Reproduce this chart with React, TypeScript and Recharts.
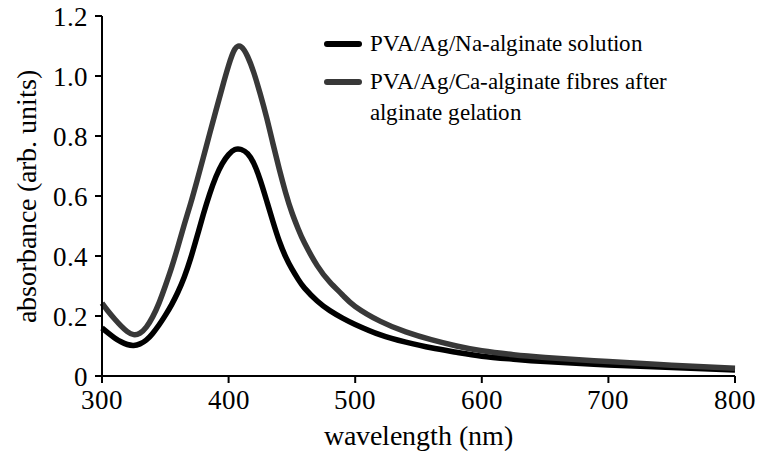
import { LineChart, Line, XAxis, YAxis, Legend } from "recharts";

const wavelengths = [
  300, 305, 310, 315, 320, 325, 330, 335, 340, 345, 350, 355, 360, 365, 370, 375, 380, 385, 390, 395,
  400, 405, 410, 415, 420, 425, 430, 435, 440, 445, 450, 455, 460, 470, 480, 490, 500, 520, 540, 560,
  580, 600, 625, 650, 700, 750, 800,
];

// PVA/Ag/Na-alginate solution
const naAlginate = [
  0.16, 0.143, 0.127, 0.114, 0.105, 0.102, 0.107, 0.12, 0.142, 0.17, 0.202, 0.238, 0.28, 0.33, 0.392, 0.464, 0.538, 0.606, 0.664, 0.708,
  0.738, 0.755, 0.755, 0.741, 0.708, 0.653, 0.585, 0.515, 0.45, 0.398, 0.357, 0.322, 0.293, 0.25, 0.218, 0.193, 0.172, 0.137, 0.113, 0.094,
  0.079, 0.066, 0.056, 0.048, 0.037, 0.028, 0.02,
];

// PVA/Ag/Ca-alginate fibres after gelation
const caAlginate = [
  0.243, 0.215, 0.19, 0.167, 0.148, 0.138, 0.143, 0.163, 0.197, 0.243, 0.3, 0.362, 0.432, 0.505, 0.575, 0.65, 0.728, 0.807, 0.885, 0.962,
  1.035, 1.09, 1.097, 1.065, 1.01, 0.94, 0.862, 0.775, 0.69, 0.612, 0.545, 0.49, 0.443, 0.368, 0.313, 0.27, 0.232, 0.182, 0.147, 0.121,
  0.1, 0.084, 0.071, 0.062, 0.048, 0.036, 0.026,
];

const xTicks = [300, 400, 500, 600, 700, 800];
const yTicks = [0, 0.2, 0.4, 0.6, 0.8, 1.0, 1.2];

const seriesColors = ["#000000", "#383838"];
const legendLines = [
  ["PVA/Ag/Na-alginate solution"],
  ["PVA/Ag/Ca-alginate fibres after", "alginate gelation"],
];

const data = wavelengths.map((w, i) => ({ wavelength: w, na: naAlginate[i], ca: caAlginate[i] }));

// local() alias so the serif face is picked by file rather than by family lookup
const fontCss = `@font-face { font-family: "ChartSerif"; src: local("Liberation Serif"), local("LiberationSerif"), local("LiberationSerif-Regular"); }`;
const FONT = "ChartSerif, 'Liberation Serif', serif";

const renderLegend = () => (
  <div style={{ fontFamily: FONT, fontSize: 23, color: "#000", lineHeight: "31px" }}>
    {legendLines.map((lines, i) => (
      <div key={i} style={{ display: "flex", alignItems: "flex-start", marginBottom: 7 }}>
        <div style={{ width: 38, height: 6, background: seriesColors[i], borderRadius: 3, marginTop: 13, marginRight: 8, flexShrink: 0 }} />
        <div>
          {lines.map((t, j) => (
            <div key={j} style={{ whiteSpace: "nowrap" }}>{t}</div>
          ))}
        </div>
      </div>
    ))}
  </div>
);

export default function App() {
  return (
    <div style={{ position: "absolute", left: 0, top: 0, background: "#fff", fontFamily: FONT }}>
      <style>{fontCss}</style>
      <LineChart width={757} height={459} data={data} margin={{ top: 16, right: 22, left: 0, bottom: 0 }}>
        <XAxis
          dataKey="wavelength"
          type="number"
          domain={[300, 800]}
          ticks={xTicks}
          height={83}
          stroke="#000"
          strokeWidth={2}
          tickSize={7}
          tickMargin={7}
          tick={{ fill: "#000", fontSize: 27, fontFamily: FONT }}
          label={{ value: "wavelength (nm)", position: "insideBottom", offset: 14, fill: "#000", fontSize: 28, fontFamily: FONT }}
        />
        <YAxis
          type="number"
          domain={[0, 1.2]}
          ticks={yTicks}
          width={102}
          stroke="#000"
          strokeWidth={2}
          tickSize={7}
          tickMargin={7}
          tickFormatter={(v: number) => (v === 0 ? "0" : v.toFixed(1))}
          tick={{ fill: "#000", fontSize: 27, fontFamily: FONT }}
          label={{
            value: "absorbance (arb. units)",
            angle: -90,
            position: "insideLeft",
            offset: 26,
            fill: "#000",
            fontSize: 28,
            fontFamily: FONT,
            style: { textAnchor: "middle" },
          }}
        />
        <Legend
          layout="horizontal"
          verticalAlign="middle"
          align="center"
          content={renderLegend}
          wrapperStyle={{ left: 324, top: 28, width: 420 }}
        />
        <Line
          type="natural"
          dataKey="na"
          name="PVA/Ag/Na-alginate solution"
          stroke={seriesColors[0]}
          strokeWidth={5.5}
          dot={false}
          isAnimationActive={false}
        />
        <Line
          type="natural"
          dataKey="ca"
          name="PVA/Ag/Ca-alginate fibres after alginate gelation"
          stroke={seriesColors[1]}
          strokeWidth={5.5}
          dot={false}
          isAnimationActive={false}
        />
      </LineChart>
    </div>
  );
}
